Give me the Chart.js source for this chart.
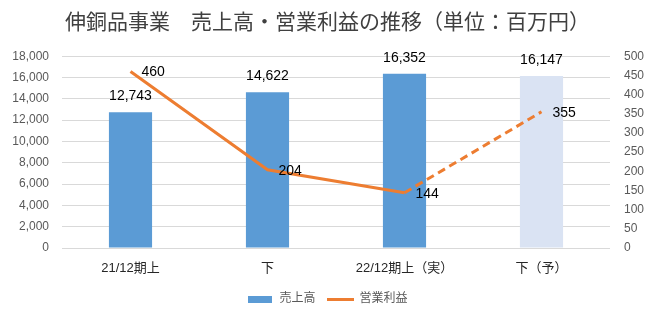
<!DOCTYPE html>
<html>
<head>
<meta charset="utf-8">
<script src="https://cdn.jsdelivr.net/npm/chart.js@4"></script>
<style>
  html, body { margin: 0; padding: 0; background: #fff; }
  #wrap { width: 655px; height: 315px; }
</style>
</head>
<body>
<div id="wrap"><canvas id="myChart" width="655" height="315"></canvas></div>
<script>
const categories = ['21/12期上', '下', '22/12期上（実）', '下（予）'];
const sales = [12743, 14622, 16352, 16147];
const profit = [460, 204, 144, 355];
const salesTicks = [0, 18000, 2000];
const profitTicks = [0, 500, 50];

const blue = '#5B9BD5';
const paleBlue = '#DAE3F3';
const orange = '#ED7D31';
const fontName = "'Liberation Sans', 'Noto Sans CJK JP', sans-serif";

// little pictures for the legend
function legendIcon(w, h, color) {
    const c = document.createElement('canvas');
    c.width = w;
    c.height = h;
    const g = c.getContext('2d');
    g.fillStyle = color;
    g.fillRect(0, 0, w, h);
    return c;
}
const icons = [legendIcon(27, 3, orange), legendIcon(24, 7, blue)];

const valueLabels = {
    id: 'valueLabels',
    afterDatasetsDraw(chart) {
        const c = chart.ctx;
        c.save();
        c.font = '14px ' + fontName;
        c.fillStyle = '#000';
        chart.data.datasets.forEach((ds, di) => {
            const meta = chart.getDatasetMeta(di);
            meta.data.forEach((el, i) => {
                const v = ds.data[i];
                if (ds.type === 'bar') {
                    c.textAlign = 'center';
                    c.textBaseline = 'middle';
                    c.fillText(v.toLocaleString('en-US'), el.x, el.y - 16);
                } else {
                    c.textAlign = 'left';
                    c.textBaseline = 'middle';
                    c.fillText(String(v), el.x + 11, el.y + 1);
                }
            });
        });
        c.restore();
    }
};

const ctx = document.getElementById('myChart');

new Chart(ctx, {
    data: {
        labels: categories,
        datasets: [
            {
                type: 'line',
                label: '営業利益',
                data: profit,
                yAxisID: 'y1',
                borderColor: orange,
                backgroundColor: orange,
                borderWidth: 3,
                pointRadius: 0,
                tension: 0,
                segment: {
                    borderDash: s => s.p0DataIndex === 2 ? [8, 5] : undefined
                }
            },
            {
                type: 'bar',
                label: '売上高',
                data: sales,
                yAxisID: 'y',
                backgroundColor: [blue, blue, blue, paleBlue],
                borderWidth: 0,
                categoryPercentage: 1,
                barPercentage: 0.315
            }
        ]
    },
    options: {
        responsive: false,
        animation: false,
        layout: { padding: 0 },
        scales: {
            x: {
                grid: { display: false },
                border: { display: false },
                ticks: {
                    color: '#262626',
                    font: { family: fontName, size: 13 },
                    padding: 5,
                    maxRotation: 0
                },
                afterFit: s => { s.height = 33; }
            },
            y: {
                position: 'left',
                min: salesTicks[0],
                max: salesTicks[1],
                ticks: {
                    stepSize: salesTicks[2],
                    color: '#595959',
                    font: { family: fontName, size: 12 },
                    padding: 13,
                    callback: v => v.toLocaleString('en-US')
                },
                grid: { color: '#D9D9D9', drawTicks: false },
                border: { display: false },
                afterFit: s => { s.width = 62; }
            },
            y1: {
                position: 'right',
                min: profitTicks[0],
                max: profitTicks[1],
                ticks: {
                    stepSize: profitTicks[2],
                    color: '#595959',
                    font: { family: fontName, size: 12 },
                    padding: 14
                },
                grid: { display: false, drawTicks: false },
                border: { display: false },
                afterFit: s => { s.width = 45; }
            }
        },
        plugins: {
            title: {
                display: true,
                text: '伸銅品事業　売上高・営業利益の推移（単位：百万円）',
                color: '#404040',
                font: { family: "'Noto Sans CJK JP', sans-serif", size: 21, weight: 'normal' },
                padding: { top: 8, bottom: 23 }
            },
            legend: {
                position: 'bottom',
                labels: {
                    usePointStyle: true,
                    pointStyleWidth: 26,
                    color: '#595959',
                    font: { family: fontName, size: 12 },
                    padding: 12,
                    sort: (a, b) => b.datasetIndex - a.datasetIndex,
                    generateLabels: chart => {
                        const items = Chart.defaults.plugins.legend.labels.generateLabels(chart);
                        items.forEach(it => { it.pointStyle = icons[it.datasetIndex]; });
                        return items;
                    }
                }
            },
            tooltip: { enabled: false }
        }
    },
    plugins: [valueLabels]
});
</script>
</body>
</html>
